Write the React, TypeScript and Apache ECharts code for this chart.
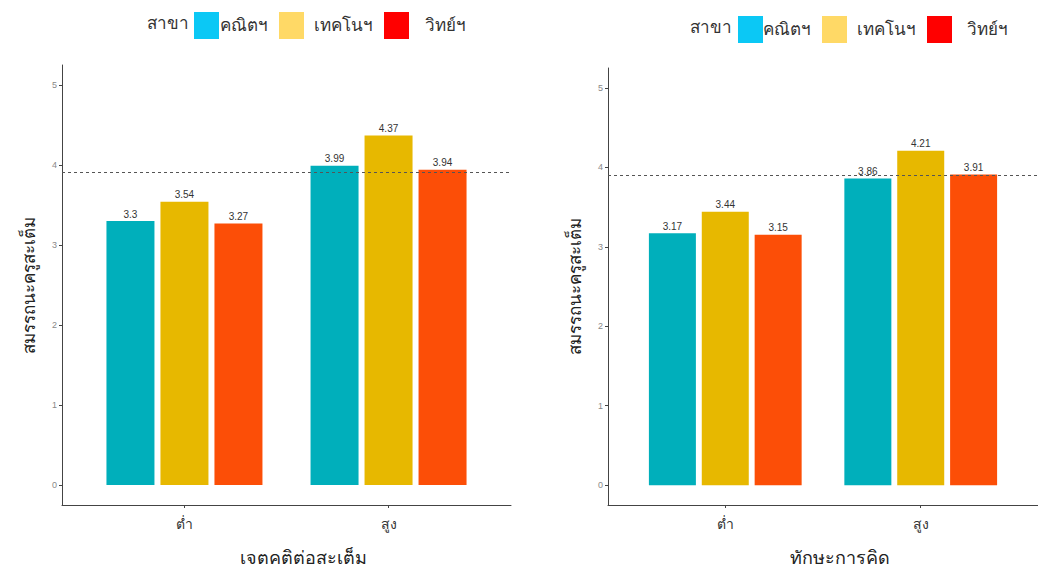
import React, { useEffect, useRef } from "react";
import * as echarts from "echarts";

const categories = ["ต่ำ", "สูง"];
const categoryPositions = [1, 2];
const groups = ["คณิตฯ", "เทคโนฯ", "วิทย์ฯ"];
const barColors = ["#00AFBB", "#E7B800", "#FC4E07"];
const legendColors = ["#0BC8F5", "#FFD966", "#FF0000"];

const leftMath = [3.3, 3.99];
const leftTech = [3.54, 4.37];
const leftSci = [3.27, 3.94];
const rightMath = [3.17, 3.86];
const rightTech = [3.44, 4.21];
const rightSci = [3.15, 3.91];
const refLines = [3.91, 3.9];

const yTicks = [0, 1, 2, 3, 4, 5];
const yTitle = "สมรรถนะครูสะเต็ม";
const xTitles = ["เจตคติต่อสะเต็ม", "ทักษะการคิด"];
const legendTitle = "สาขา";

export default function App() {
  const ref = useRef<HTMLDivElement>(null);
  useEffect(() => {
    if (!ref.current) return;
    const chart = echarts.init(ref.current, undefined, { renderer: "svg" });
    const panels = [
      [leftMath, leftTech, leftSci],
      [rightMath, rightTech, rightSci],
    ];
    const barWidths = [48, 47];
    const series: any[] = [];
    panels.forEach((panel, pi) => {
      panel.forEach((vals, gi) => {
        series.push({
          type: "bar",
          name: groups[gi],
          xAxisIndex: pi,
          yAxisIndex: pi,
          barWidth: barWidths[pi],
          barGap: "12.5%",
          itemStyle: { color: barColors[gi] },
          data: vals.map((v, i) => [categoryPositions[i], v]),
          label: {
            show: true,
            position: "top",
            distance: 2,
            fontSize: 10,
            color: "#333",
            formatter: (p: any) => String(p.value[1]),
          },
          markLine:
            gi === 0
              ? {
                  silent: true,
                  symbol: "none",
                  label: { show: false },
                  lineStyle: { type: [3, 3], color: "#555", width: 1 },
                  data: [{ yAxis: refLines[pi] }],
                }
              : undefined,
        });
      });
    });

    const legendTextPads = [
      [
        [0, 0, 0, -4],
        [0, 0, 0, 5],
        [0, 0, 0, 11],
      ],
      [
        [0, 0, 0, -5],
        [0, 0, 0, 5],
        [0, 0, 0, 10],
      ],
    ];

    const option: any = {
      animation: false,
      textStyle: { fontFamily: "sans-serif" },
      grid: [
        { left: 62, top: 65, width: 449, height: 449 },
        { left: 608, top: 68, width: 440, height: 444 },
      ],
      xAxis: [0, 1].map((i) => ({
        type: "value",
        gridIndex: i,
        min: 0.4,
        max: 2.6,
        axisLine: { show: true, onZero: false, lineStyle: { color: "#444", width: 1 } },
        splitLine: { show: false },
        axisTick: { show: true, customValues: categoryPositions, length: 3, lineStyle: { color: "#444" } },
        axisLabel: {
          customValues: categoryPositions,
          formatter: (v: number) => categories[categoryPositions.indexOf(v)] ?? "",
          fontSize: 14,
          color: "#333",
          margin: 12,
        },
        name: xTitles[i],
        nameLocation: "middle",
        nameGap: 44,
        nameTextStyle: { fontSize: 18, color: "#222", fontWeight: "normal", padding: [0, 0, 0, 34] },
      })),
      yAxis: [0, 1].map((i) => ({
        type: "value",
        gridIndex: i,
        min: -0.25,
        max: 5.25,
        axisLine: { show: true, onZero: false, lineStyle: { color: "#444", width: 1 } },
        splitLine: { show: false },
        axisTick: { show: true, customValues: yTicks, length: 3, lineStyle: { color: "#444" } },
        axisLabel: { customValues: yTicks, fontSize: 9, color: "#888", margin: 5 },
        name: yTitle,
        nameLocation: "middle",
        nameGap: 24,
        nameTextStyle: { fontSize: 17, color: "#222", fontWeight: "normal" },
      })),
      legend: [
        { left: 194, top: 12 },
        { left: 738, top: 16 },
      ].map((pos, li) => ({
        ...pos,
        padding: 0,
        icon: "rect",
        itemWidth: 25,
        itemHeight: 27,
        itemGap: 11,
        selectedMode: false,
        data: groups.map((g, i) => ({
          name: g,
          itemStyle: { color: legendColors[i] },
          textStyle: { padding: legendTextPads[li][i] },
        })),
        textStyle: { fontSize: 17, color: "#333" },
      })),
      graphic: [
        { type: "text", left: 147, top: 15, style: { text: legendTitle, fontSize: 17, fill: "#333" } },
        { type: "text", left: 690, top: 19, style: { text: legendTitle, fontSize: 17, fill: "#333" } },
      ],
      series,
    };
    chart.setOption(option);
    return () => chart.dispose();
  }, []);
  return (
    <div
      ref={ref}
      style={{ position: "absolute", left: 0, top: 0, width: 1038, height: 572 }}
    />
  );
}
